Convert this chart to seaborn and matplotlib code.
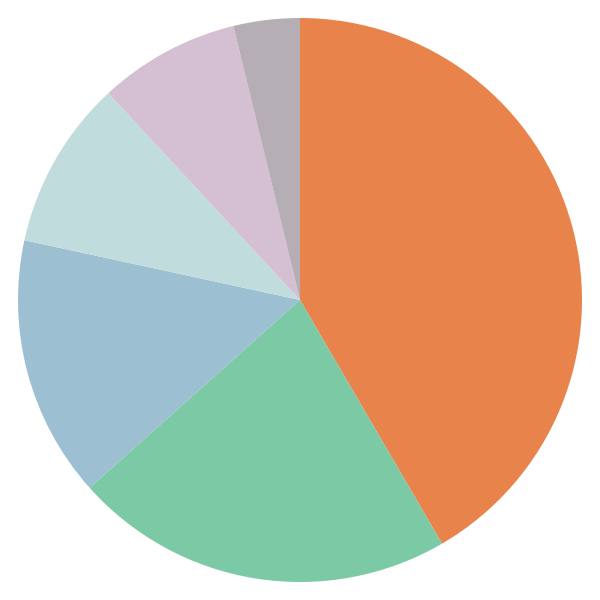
import matplotlib
matplotlib.use("Agg")
import matplotlib.pyplot as plt
import seaborn as sns

# slice shares (percent), clockwise from 12 o'clock
categories = ["A", "B", "C", "D", "E", "F"]
shares = [41.6, 21.8, 15.0, 9.7, 8.1, 3.8]
colors = ["#E8844B", "#7CC9A6", "#9CBFD2", "#C1DCDD", "#D5C0D3", "#B5AFB5"]

sns.set_theme(style="white")

fig = plt.figure(figsize=(6, 6), dpi=100)
ax = fig.add_axes([0, 0, 1, 1])
ax.pie(shares, colors=colors, startangle=90, counterclock=False,
       radius=1.0, center=(0, 0), wedgeprops={"linewidth": 0})
lim = 300 / 282
ax.set_xlim(-lim, lim)
ax.set_ylim(-lim, lim)
ax.set_aspect("equal")
ax.axis("off")
fig.savefig("out.png", dpi=100, facecolor="white")
